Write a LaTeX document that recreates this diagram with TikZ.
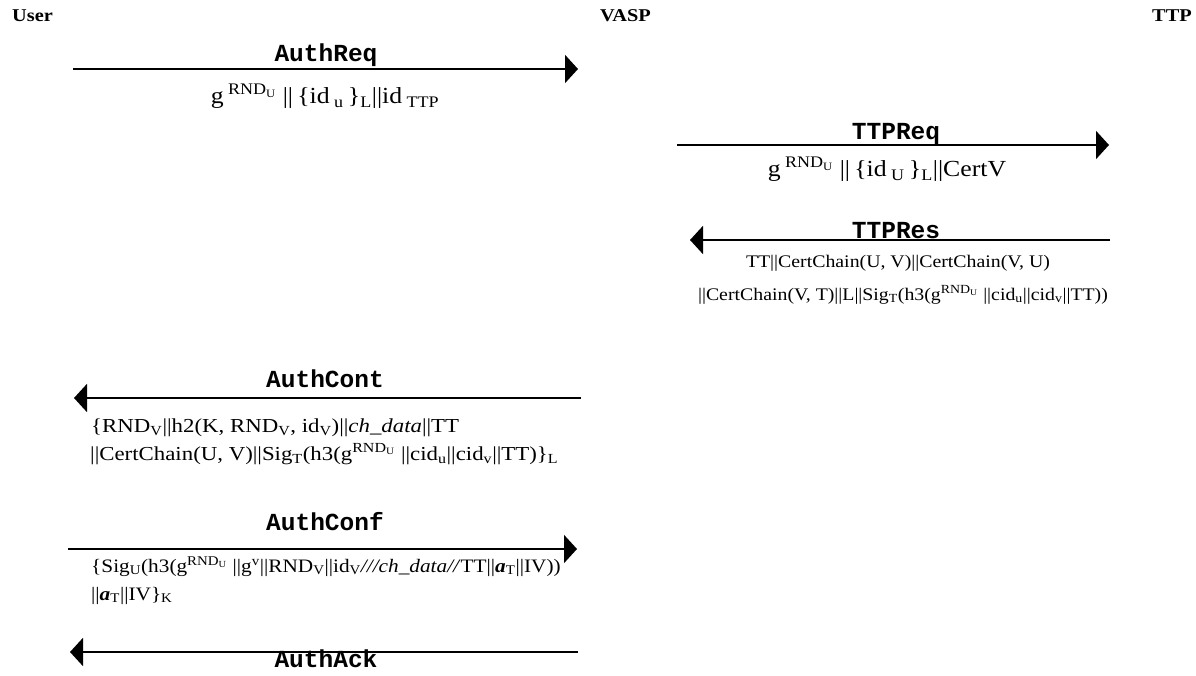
\documentclass[tikz,border=0pt]{standalone}
\usepackage{fontspec}
\setmainfont{Liberation Serif}
\setmonofont{Liberation Mono}
\usetikzlibrary{arrows.meta}

\newcommand{\low}[1]{\textsubscript{#1}}
\newcommand{\high}[1]{\textsuperscript{#1}}
\newcommand{\gRND}{g\high{RND\low{U}}}
\newcommand{\aT}{\textbf{\textit{a}}\low{T}}

\tikzset{
  party/.style={font=\fontsize{18}{22}\selectfont\bfseries, inner sep=0pt, xscale=1.13, transform shape},
  msg/.style={line width=2pt, -{Triangle[length=13pt,width=28pt]}},
  msgname/.style={font=\fontsize{24.5}{28}\selectfont\ttfamily\bfseries, inner sep=0pt, anchor=base},
  bigdata/.style={font=\fontsize{23}{28}\selectfont, inner sep=0pt, anchor=base, xscale=1.12, transform shape},
  data/.style={font=\fontsize{17.7}{20}\selectfont, inner sep=0pt, anchor=base, xscale=1.12, transform shape},
  dataleft/.style={inner sep=0pt, anchor=base west, xscale=1.12, transform shape},
}

\begin{document}
\begin{tikzpicture}[x=1pt, y=-1pt]
  \useasboundingbox (0,0) rectangle (1196,676);

  %participants
  \node [party, anchor=base west] (user) at (12,22) {User};
  \node [party, anchor=base west] (vasp) at (600,22) {VASP};
  \node [party, anchor=base east] (ttp) at (1192,22) {TTP};

  %end points of the messages
  \coordinate (reqU) at (73,69);   \coordinate (reqV) at (578,69);
  \coordinate (treqV) at (677,145); \coordinate (treqT) at (1109,145);
  \coordinate (tresT) at (1110,240); \coordinate (tresV) at (690,240);
  \coordinate (contV) at (581,398); \coordinate (contU) at (74,398);
  \coordinate (confU) at (68,549);  \coordinate (confV) at (577,549);
  \coordinate (ackV) at (578,652);  \coordinate (ackU) at (70,652);

  %AuthReq
  \draw [msg] (reqU) -- (reqV);
  \node [msgname] (authreq) at (326,62) {AuthReq};
  \node [bigdata] (authreqdata) at (325,104)
    {g\,\high{RND\low{U}}\ ||\,\{id\,\low{u}\,\}\low{L}||id\,\low{TTP}};

  %TTPReq
  \draw [msg] (treqV) -- (treqT);
  \node [msgname] (ttpreq) at (896,140) {TTPReq};
  \node [bigdata] (ttpreqdata) at (887,177)
    {g\,\high{RND\low{U}}\ ||\,\{id\,\low{U}\,\}\low{L}||CertV};

  %TTPRes
  \draw [msg] (tresT) -- (tresV);
  \node [msgname] (ttpres) at (896,239) {TTPRes};
  \node [data] (ttpresdataA) at (898,268) {TT||CertChain(U, V)||CertChain(V, U)};
  \node [data] (ttpresdataB) at (903,300)
    {||CertChain(V, T)||L||Sig\low{T}(h3(\gRND\ ||cid\low{u}||cid\low{v}||TT))};

  %AuthCont
  \draw [msg] (contV) -- (contU);
  \node [msgname] (authcont) at (325,387) {AuthCont};
  \node [dataleft, xscale=1.03, font=\fontsize{19.8}{24}\selectfont] (authcontdataA) at (91,432)
    {\{RND\low{V}||h2(K, RND\low{V}, id\low{V})||\textit{ch\_data}||TT};
  \node [dataleft, xscale=1.03, font=\fontsize{19.8}{24}\selectfont] (authcontdataB) at (90,460)
    {||CertChain(U, V)||Sig\low{T}(h3(\gRND\ ||cid\low{u}||cid\low{v}||TT)\}\low{L}};

  %AuthConf
  \draw [msg] (confU) -- (confV);
  \node [msgname] (authconf) at (325,530) {AuthConf};
  \node [dataleft, font=\fontsize{19}{24}\selectfont] (authconfdataA) at (91,572)
    {\{Sig\low{U}(h3(\gRND\ ||g\high{v}||RND\low{V}||id\low{V}\textit{///ch\_data//}TT||\aT||IV))};
  \node [dataleft, font=\fontsize{19}{24}\selectfont] (authconfdataB) at (91,600) {||\aT||IV\}\low{K}};

  %AuthAck
  \draw [msg] (ackV) -- (ackU);
  \node [msgname] (authack) at (326,667) {AuthAck};
\end{tikzpicture}
\end{document}
